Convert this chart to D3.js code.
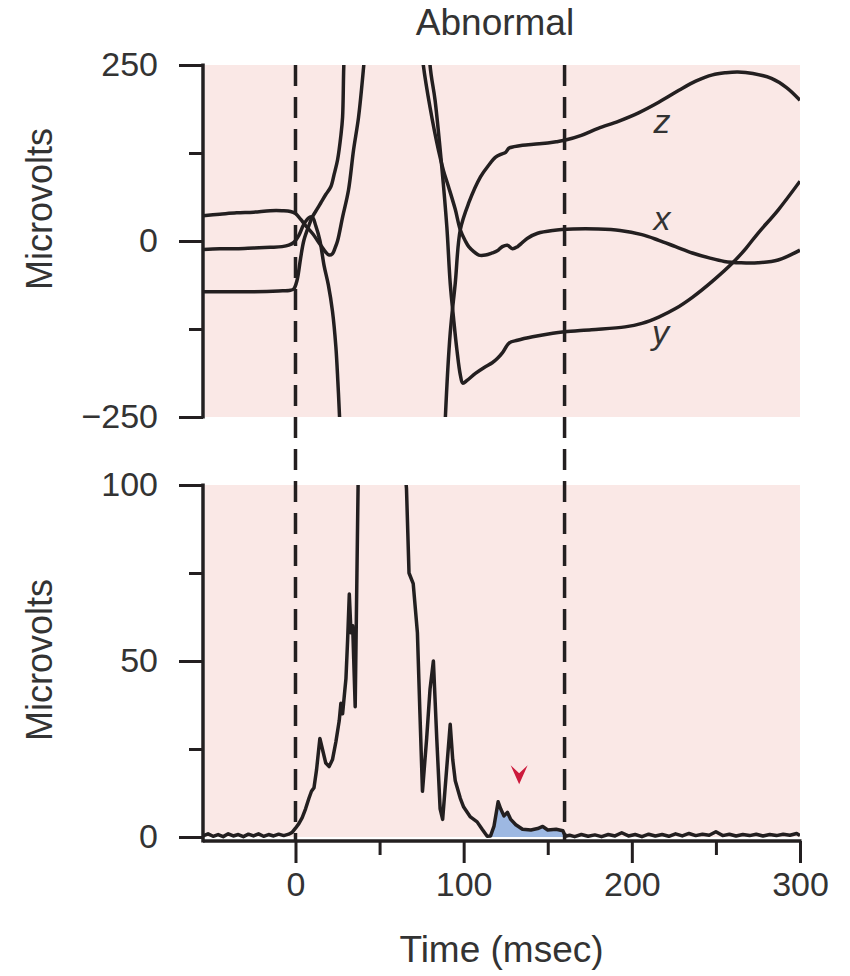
<!DOCTYPE html>
<html><head><meta charset="utf-8">
<script src="https://cdn.jsdelivr.net/npm/d3@7"></script>
<style>
body{margin:0;background:#fff;}
svg{display:block;}
text{font-family:'Liberation Sans',Arial,Helvetica,sans-serif;fill:#333;}
</style></head><body>
<svg id="chart" width="850" height="976"></svg>
<script>
// ---------- data ----------
const xMajorTicks = [0, 100, 200, 300];
const xMinorTicks = [50, 150, 250];
const topMajorTicks = [-250, 0, 250];
const topMinorTicks = [-125, 125];
const botMajorTicks = [0, 50, 100];
const botMinorTicks = [25, 75];
const qrsMarkers = [0, 160];            // dashed onset / offset lines (msec)
const lasWindow = [116, 160.5];          // shaded low-amplitude signal (msec)
const arrowPoint = [133, 15];            // red arrowhead (msec, microvolts)

// lead z  [msec, microvolts]
const leadZ = [[-55,-12],[-45,-11],[-35,-11],[-25,-10],[-15,-9],[-8,-8],[-4,-6],[-1,-2],[2,8],[5,24],[8,33],[10,34],[12,22],[14.5,1],[17,-35],[19.5,-62],[22,-100],[24,-150],[25.2,-200],[26.2,-250],[28,-360],[40,-600],[70,-650],[86,-450],[88,-330],[89,-257],[92,-131],[95,-60],[98,16],[103,54],[110,91],[115,108],[119,119],[122,123],[125,126],[127,132],[130,134],[135,136],[145,138],[155,141],[160,143],[170,150],[180,160],[192,170],[204,182],[216,197],[228,214],[238,227],[248,236],[256,239],[263,240],[272,238],[283,231],[292,218],[300,200]];
// lead x
const leadX = [[-55,36],[-45,38],[-35,40],[-25,41],[-15,43],[-8,43],[-3,42],[0,39],[3,31],[6,22],[10,11],[15,-6],[18,-16],[20,-20],[22,-18],[23.5,-10],[25,0],[28,34],[31.5,72],[34.5,129],[37.5,176],[40.5,247],[43,320],[50,500],[62,600],[72,420],[74,300],[76,250],[80,190],[85,129],[88,100],[91,77],[95,45],[98,16],[101,0],[103,-8],[106,-15],[109,-20],[113,-20],[117,-17],[120,-14],[123,-8],[126,-6],[129,-11],[132,-8],[135,-2],[138,4],[144,11],[153,15],[165,17],[180,17],[193,15],[206,9],[216,1],[226,-8],[236,-17],[246,-24],[255,-29],[265,-31],[275,-31],[287,-27],[300,-13]];
// lead y
const leadY = [[-55,-72],[-40,-72],[-25,-72],[-10,-71],[-3,-70],[-1,-68],[1,-55],[3,-25],[5,1],[8,22],[10,34],[13,46],[15,54],[18,66],[21,77],[23,95],[25,115],[27,150],[28,176],[28.7,247],[30,330],[40,550],[60,700],[78,400],[80,250],[83,200],[87,105],[90,20],[92,-60],[94,-110],[96,-155],[98,-190],[99.5,-202],[102,-198],[107,-188],[112,-180],[117,-173],[120,-167],[123,-159],[127,-145],[132,-141],[141,-136],[153,-131],[160,-129],[176,-126],[196,-122],[206,-117],[216,-108],[226,-96],[236,-80],[248,-57],[260,-31],[268,-10],[275,11],[287,44],[300,85]];
// filtered vector magnitude
const magnitude = [[-55,0.3],[-52,0.9],[-49,0.2],[-46,0.7],[-43,0.1],[-40,0.9],[-37,0.3],[-34,0.7],[-31,0.1],[-28,0.8],[-25,0.3],[-22,0.9],[-19,0.2],[-16,0.7],[-13,0.3],[-10,0.8],[-7,0.4],[-4,0.8],[-2,1.3],[0,2.5],[2,3.8],[4,5.5],[6,8],[8,11],[9.5,13],[11,14],[12.5,19],[14.5,28],[16,25],[18,21],[20,20],[22,22],[24,27],[26,33],[27,38],[28,35],[29,40],[30,45],[31,56],[32,69],[33,58],[34,60],[35.5,37],[37.5,110],[50,200],[64,110],[66,99],[67.5,75],[70,72],[72.5,58],[74,35],[75.5,13],[78,28],[80,42],[82,50],[84,28],[86,8],[87.5,5],[90,20],[92,32],[93.5,22],[95,16],[98,11],[100,8.5],[104,5.7],[108,4.3],[111,2.2],[114,0.2],[116,0.3],[118,3],[120.5,10],[122,8],[124,6],[126,7],[128,5],[131,3.5],[135,2.2],[140,2],[144,2.4],[147,3],[150,2],[155,2.2],[159,1.8],[160.5,0.2],[163,0.5],[166,0.1],[170,0.7],[174,0.2],[178,0.6],[182,0.1],[186,0.7],[190,0.3],[194,1.2],[198,0.3],[202,0.7],[206,0.1],[210,0.8],[214,0.3],[218,0.7],[222,0.2],[226,0.9],[230,0.3],[234,1.0],[238,0.4],[242,0.8],[246,0.5],[250,1.5],[254,0.4],[258,0.8],[262,0.3],[266,0.7],[270,0.4],[274,0.8],[278,0.3],[282,0.7],[286,0.4],[290,0.8],[294,0.5],[298,1.0],[300,0.4]];
const leadLabels = [{name:'z', t:218, v:153}, {name:'x', t:218, v:16}, {name:'y', t:217, v:-146}];

// ---------- layout ----------
const svg = d3.select('#chart');
const ink = '#231f20';
const x = d3.scaleLinear().domain([-55, 300]).range([203, 800]);
const yTop = d3.scaleLinear().domain([-250, 250]).range([417, 65]);
const yBot = d3.scaleLinear().domain([0, 100]).range([837, 485]);
const xAxisY = yBot(0) + 4;
const pink = '#fae8e6';

svg.append('rect').attr('width', 850).attr('height', 976).attr('fill', '#fff');

// panel backgrounds
svg.append('rect').attr('x', x(-55) + 2).attr('y', yTop(250)).attr('width', x(300) - x(-55) - 2)
  .attr('height', yTop(-250) - yTop(250)).attr('fill', pink);
svg.append('rect').attr('x', x(-55) + 2).attr('y', yBot(100)).attr('width', x(300) - x(-55) - 2)
  .attr('height', yBot(0) - yBot(100)).attr('fill', pink);

const defs = svg.append('defs');
defs.append('clipPath').attr('id', 'clipTop').append('rect')
  .attr('x', x(-55)).attr('y', yTop(250)).attr('width', x(300) - x(-55)).attr('height', yTop(-250) - yTop(250));
defs.append('clipPath').attr('id', 'clipBot').append('rect')
  .attr('x', x(-55)).attr('y', yBot(100)).attr('width', x(300) - x(-55)).attr('height', yBot(0) - yBot(100) + 6);

// shaded LAS area
const las = magnitude.filter(d => d[0] >= lasWindow[0] && d[0] <= lasWindow[1]);
svg.append('path').datum(las)
  .attr('clip-path', 'url(#clipBot)')
  .attr('fill', '#9db8e2')
  .attr('d', d3.area().x(d => x(d[0])).y0(yBot(0)).y1(d => yBot(d[1])));

// dashed markers
svg.selectAll('line.marker').data(qrsMarkers).enter().append('line')
  .attr('class', 'marker')
  .attr('x1', d => x(d)).attr('x2', d => x(d))
  .attr('y1', yTop(250)).attr('y2', xAxisY)
  .attr('stroke', ink).attr('stroke-width', 3.5).attr('stroke-dasharray', '21,11');

// top leads
const leadLine = d3.line().x(d => x(d[0])).y(d => yTop(d[1])).curve(d3.curveCatmullRom.alpha(0.5));
const gTop = svg.append('g').attr('clip-path', 'url(#clipTop)');
[leadZ, leadX, leadY].forEach(s => {
  gTop.append('path').datum(s).attr('fill', 'none').attr('stroke', ink)
    .attr('stroke-width', 3.5).attr('stroke-linejoin', 'round').attr('d', leadLine);
});

// bottom magnitude
const magLine = d3.line().x(d => x(d[0])).y(d => yBot(d[1]));
svg.append('g').attr('clip-path', 'url(#clipBot)').append('path').datum(magnitude)
  .attr('fill', 'none').attr('stroke', ink).attr('stroke-width', 3.5)
  .attr('stroke-linejoin', 'round').attr('d', magLine);

// axes
function styleAxis(g) {
  g.select('.domain').remove();
  g.selectAll('.tick line').attr('stroke', ink).attr('stroke-width', 3);
  g.selectAll('.tick text').attr('font-size', 34).attr('fill', '#333')
    .style('font-family', "'Liberation Sans',Arial,Helvetica,sans-serif");
}
const fmt = d => d3.format('')(d).replace('-', '\u2212');

const gyt = svg.append('g').attr('transform', `translate(${x(-55)},0)`);
gyt.call(d3.axisLeft(yTop).tickValues(topMajorTicks).tickSize(24).tickPadding(21).tickFormat(fmt)).call(styleAxis);
const gyt2 = svg.append('g').attr('transform', `translate(${x(-55)},0)`);
gyt2.call(d3.axisLeft(yTop).tickValues(topMinorTicks).tickSize(14).tickFormat('')).call(styleAxis);
svg.append('line').attr('x1', x(-55)).attr('x2', x(-55)).attr('y1', yTop(250) - 1.5).attr('y2', yTop(-250) + 1.5)
  .attr('stroke', ink).attr('stroke-width', 3.5);

const gyb = svg.append('g').attr('transform', `translate(${x(-55)},0)`);
gyb.call(d3.axisLeft(yBot).tickValues(botMajorTicks).tickSize(24).tickPadding(21).tickFormat(fmt)).call(styleAxis);
const gyb2 = svg.append('g').attr('transform', `translate(${x(-55)},0)`);
gyb2.call(d3.axisLeft(yBot).tickValues(botMinorTicks).tickSize(14).tickFormat('')).call(styleAxis);
svg.append('line').attr('x1', x(-55)).attr('x2', x(-55)).attr('y1', yBot(100) - 1.5).attr('y2', xAxisY + 1.5)
  .attr('stroke', ink).attr('stroke-width', 3.5);

const gx = svg.append('g').attr('transform', `translate(0,${xAxisY})`);
gx.call(d3.axisBottom(x).tickValues(xMajorTicks).tickSize(22).tickPadding(9).tickFormat(fmt)).call(styleAxis);
const gx2 = svg.append('g').attr('transform', `translate(0,${xAxisY})`);
gx2.call(d3.axisBottom(x).tickValues(xMinorTicks).tickSize(14).tickFormat('')).call(styleAxis);
svg.append('line').attr('x1', x(-55)).attr('x2', x(300) + 1.5).attr('y1', xAxisY).attr('y2', xAxisY)
  .attr('stroke', ink).attr('stroke-width', 3.5);

// arrowhead
const ax = x(arrowPoint[0]), ay = yBot(arrowPoint[1]);
svg.append('path')
  .attr('d', `M${ax},${ay} L${ax - 8.5},${ay - 19} L${ax},${ay - 11} L${ax + 8.5},${ay - 19} Z`)
  .attr('fill', '#cc1a3c');

// lead labels
svg.selectAll('text.lead').data(leadLabels).enter().append('text')
  .attr('class', 'lead')
  .attr('x', d => x(d.t)).attr('y', d => yTop(d.v))
  .attr('text-anchor', 'middle').attr('font-size', 34).attr('font-style', 'italic')
  .attr('fill', '#333').text(d => d.name);

// titles
svg.append('text').attr('x', 495).attr('y', 35).attr('text-anchor', 'middle')
  .attr('font-size', 37).text('Abnormal');
svg.append('text').attr('x', (x(-55) + x(300)) / 2).attr('y', 962).attr('text-anchor', 'middle')
  .attr('font-size', 37).text('Time (msec)');
svg.append('text').attr('transform', `translate(52,${209}) rotate(-90)`).attr('text-anchor', 'middle')
  .attr('font-size', 36).text('Microvolts');
svg.append('text').attr('transform', `translate(52,${660}) rotate(-90)`).attr('text-anchor', 'middle')
  .attr('font-size', 36).text('Microvolts');
</script>
</body></html>
